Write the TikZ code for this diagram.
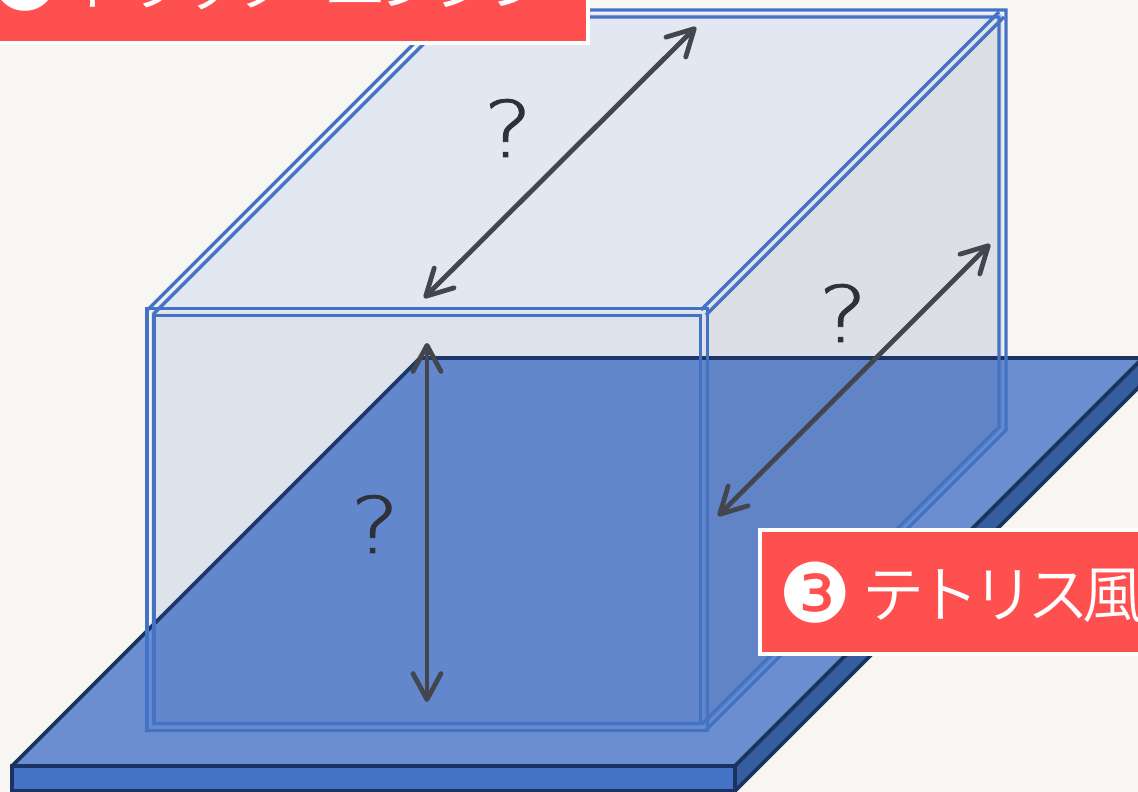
\documentclass[tikz,border=0pt]{standalone}
\usepackage{fontspec}
\usetikzlibrary{arrows.meta}
\newfontfamily\jpfont[LetterSpace=-11.3]{Noto Sans CJK JP DemiLight}
\newfontfamily\qfont[FakeBold=1]{DejaVu Sans ExtraLight}
\newfontfamily\numfont{DejaVu Sans}
\definecolor{bgc}{HTML}{F7F6F2}
\definecolor{boardtop}{HTML}{6A8ECF}
\definecolor{boardfront}{HTML}{4472C4}
\definecolor{boardside}{HTML}{365E9F}
\definecolor{boardline}{HTML}{1A3360}
\definecolor{boxline}{HTML}{4472C4}
\definecolor{facetop}{HTML}{245AE7}
\definecolor{facefront}{HTML}{2F58C0}
\definecolor{faceside}{HTML}{2A4695}
\definecolor{arrowc}{HTML}{43464F}
\definecolor{qc}{HTML}{2E3138}
\definecolor{labelred}{HTML}{FF5050}
\tikzset{
  boardface/.style={draw=boardline,line width=3.8pt,line join=miter,miter limit=2},
  boxface/.style={fill opacity=#1,draw=none},
  boxedge/.style={draw=boxline,line width=3.3pt,line join=miter},
  dimarrow/.style={draw=arrowc,line width=4.8pt,{Straight Barb[length=26pt,width=28pt,round]}-{Straight Barb[length=26pt,width=28pt,round]}},
  qmark/.style={text=qc,font=\qfont\fontsize{78}{78}\selectfont,inner sep=0pt},
  redlabel/.style={fill=labelred,draw=white,line width=3.5pt},
  labeltext/.style={text=white,font=\jpfont\fontsize{62}{62}\selectfont,inner sep=0pt,anchor=base west},
  labelnum/.style={text=white,font=\numfont\fontsize{82}{82}\selectfont,inner sep=0pt,anchor=center}
}
\begin{document}
\begin{tikzpicture}[x=1pt,y=-1pt]
\useasboundingbox (0,0) rectangle (1138,792);
\clip (0,0) rectangle (1138,792);
\fill[bgc] (0,0) rectangle (1138,792);
% board
\draw[boardface,fill=boardtop] (12,766) -- (735,766) -- (1143,358) -- (420,358) -- cycle;
\draw[boardface,fill=boardfront] (12,766) -- (735,766) -- (735,791) -- (12,791) -- cycle;
\draw[boardface,fill=boardside] (735,766) -- (1143,358) -- (1143,383) -- (735,791) -- cycle;
% box faces
\fill[facetop,boxface=0.09] (150.5,312) -- (451,13.5) -- (1002.5,13.5) -- (704,312) -- cycle;
\fill[facefront,boxface=0.12] (150.5,312) -- (704,312) -- (704,727) -- (150.5,727) -- cycle;
\fill[faceside,boxface=0.125] (704,312) -- (1002.5,13.5) -- (1002.5,428.5) -- (704,727) -- cycle;
% box edges, each a pair of lines
\draw[boxedge] (147,310.5) -- (447.5,10) -- (1006,10) -- (1006,430) -- (705.5,730.5) -- (147,730.5) -- cycle;
\draw[boxedge] (154,313.5) -- (450.5,17) -- (999,17) -- (999,427) -- (702.5,723.5) -- (154,723.5) -- cycle;
\draw[boxedge] (147,308.5) -- (707.5,308.5) -- (707.5,730.5) -- (147,730.5) -- cycle;
\draw[boxedge] (154,315.5) -- (700.5,315.5) -- (700.5,723.5) -- (154,723.5) -- cycle;
\draw[boxedge] (701,310) -- (999,12);
\draw[boxedge] (706,315) -- (1004,17);
% arrows
\coordinate (a1s) at (424,298);
\coordinate (a1e) at (696,27);
\coordinate (a2s) at (718,516);
\coordinate (a2e) at (990,244);
\coordinate (a3s) at (427,343);
\coordinate (a3e) at (427,702);
\draw[dimarrow] (a1s) -- (a1e);
\draw[dimarrow] (a2s) -- (a2e);
\draw[dimarrow] (a3s) -- (a3e);
\node[qmark,xscale=1.2] (q1) at (508,128) {?};
\node[qmark,xscale=1.2] (q2) at (843,313) {?};
\node[qmark,xscale=1.2] (q3) at (375,524) {?};
% labels
\draw[redlabel] (-6,-60) rectangle (588,43);
\node[labelnum] (n1) at (25,-19) {❶};
\node[labeltext] (t1) at (69,6) {トラック\hspace{28pt}エンジン};
\draw[redlabel] (760,530) rectangle (1160,654);
\node[labelnum] (n3) at (815,593) {❸};
\node[labeltext] (t3) at (862,617) {テトリス風};
\end{tikzpicture}
\end{document}
